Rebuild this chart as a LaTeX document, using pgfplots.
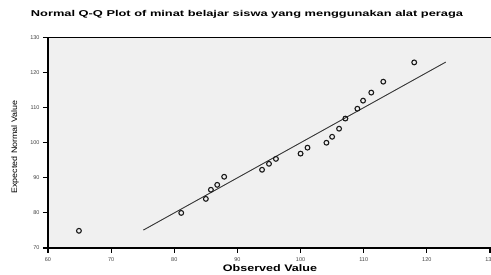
\documentclass[border=0pt]{standalone}
\usepackage{pgfplots}
\pgfplotsset{compat=1.18}
\usepackage{fontspec}
\setmainfont{Liberation Sans}
\usepackage{graphicx}
\definecolor{plotbg}{HTML}{F0F0F0}
\begin{document}
\begin{tikzpicture}[x=1pt,y=1pt]
\path[use as bounding box] (-48,-27) rectangle (443,248);
\begin{axis}[
  at={(0,0)}, anchor=south west,
  scale only axis,
  width=448.3pt, height=210.5pt,
  xmin=60, xmax=131, ymin=70, ymax=130,
  axis y line=left,
  axis x line=box,
  xtick pos=lower,
  axis line style={black, line width=1.1pt, -},
  axis background/.style={fill=plotbg},
  xtick={60,70,...,130},
  ytick={70,80,...,130},
  tick align=outside,
  major tick length=5pt,
  tick style={black, line width=1.1pt},
  /pgf/number format/assume math mode=true,
  ticklabel style={font=\fontsize{5.5}{6}\selectfont, text=black!75},
  xticklabel style={yshift=-1pt},
  clip=false,
]
\addplot[black!80, line width=0.9pt] coordinates {(75.1,75.1) (123,123)};
\addplot[only marks, mark=o, mark size=2.4pt, mark options={black!90, line width=1.1pt}] coordinates {
(64.9,74.9) (81.1,80.0) (85.0,84.0) (85.8,86.6) (86.8,88.0) (87.9,90.3)
(93.9,92.3) (95.0,94.0) (96.1,95.4) (100.0,96.9) (101.1,98.6) (104.1,100.0)
(105.0,101.7) (106.1,104.0) (107.1,106.9) (109.0,109.7) (109.9,112.0)
(111.2,114.3) (113.1,117.4) (118.0,122.9)
};
\end{axis}
\node at (199,234) {\resizebox{432pt}{\height}{\fontsize{8.5}{10}\selectfont\bfseries Normal Q-Q Plot of minat belajar siswa yang menggunakan alat peraga}};
\node at (222,-20) {\resizebox{94pt}{\height}{\fontsize{9.5}{11}\selectfont\bfseries Observed Value}};
\node[rotate=90] at (-33,101) {\resizebox{93pt}{\height}{\fontsize{8}{9}\selectfont Expected Normal Value}};
\end{tikzpicture}
\end{document}
